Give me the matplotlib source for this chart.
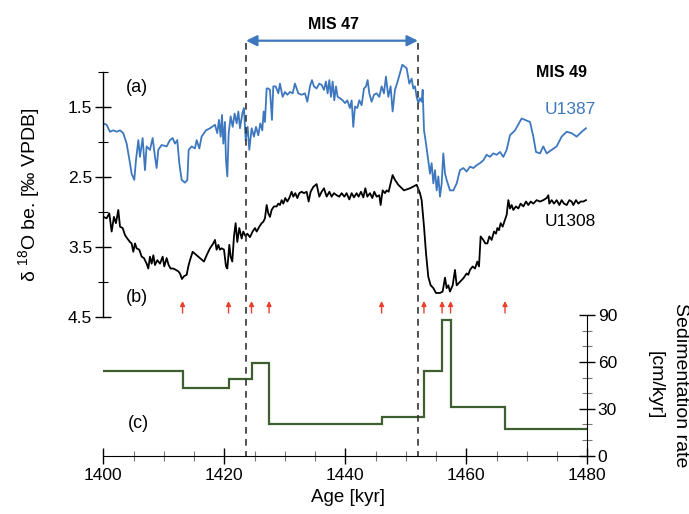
import matplotlib
matplotlib.use("Agg")
import matplotlib.pyplot as plt
import numpy as np

plt.rcParams['font.family'] = ['Liberation Sans', 'DejaVu Sans']
plt.rcParams['mathtext.fontset'] = 'custom'
plt.rcParams['mathtext.rm'] = 'Liberation Sans'

# ---- U1387 benthic d18O (age kyr, permil) ----
u1387_age = [1400.0, 1400.55, 1401.1, 1401.65, 1402.2, 1402.75, 1403.3, 1403.86, 1404.41, 1404.68,
             1405.12, 1405.4, 1405.79, 1406.06, 1406.5, 1406.89, 1407.16, 1407.71, 1408.16, 1408.54,
             1408.82, 1409.09, 1409.64, 1410.47, 1411.02, 1411.46, 1411.85, 1412.23, 1412.56, 1412.95,
             1413.5, 1413.89, 1414.11, 1414.6, 1415.15, 1415.43, 1415.87, 1416.25, 1416.97, 1417.63,
             1418.46, 1418.84, 1419.12, 1419.4, 1419.62, 1419.84, 1420.11, 1420.28, 1420.5, 1420.72,
             1421.05, 1421.38, 1421.71, 1422.04, 1422.32, 1422.59, 1422.98, 1423.25, 1423.53, 1423.86,
             1424.13, 1424.52, 1424.9, 1425.24, 1425.62, 1425.95, 1426.28, 1426.5, 1426.72, 1427.0,
             1427.27, 1427.55, 1427.88, 1428.1, 1428.49, 1428.93, 1429.2, 1429.64, 1430.03, 1430.41,
             1430.85, 1431.3, 1431.68, 1432.23, 1432.78, 1433.33, 1433.72, 1434.16, 1434.49, 1434.82,
             1435.26, 1435.7, 1436.09, 1436.47, 1436.8, 1437.08, 1437.36, 1437.63, 1437.91, 1438.18,
             1438.46, 1438.73, 1439.12, 1439.56, 1439.95, 1440.33, 1440.77, 1441.05, 1441.32, 1441.6,
             1441.98, 1442.31, 1442.7, 1443.09, 1443.42, 1443.69, 1443.97, 1444.35, 1444.74, 1445.18,
             1445.62, 1446.01, 1446.39, 1446.72, 1447.11, 1447.49, 1447.82, 1448.21, 1448.65, 1449.04,
             1449.42, 1449.86, 1450.14, 1450.58, 1450.97, 1451.24, 1451.52, 1451.79, 1452.07, 1452.34,
             1452.62, 1452.79, 1453.01, 1453.34, 1453.56, 1453.72, 1454.0, 1454.27, 1454.55, 1454.83,
             1455.1, 1455.38, 1455.65, 1455.93, 1456.2, 1456.48, 1456.75, 1457.3, 1457.86, 1458.41,
             1458.96, 1459.51, 1460.06, 1460.61, 1461.16, 1461.71, 1462.26, 1462.81, 1463.36, 1463.92,
             1464.47, 1465.02, 1465.57, 1466.12, 1466.67, 1467.22, 1468.05, 1469.15, 1470.53, 1471.08,
             1471.52, 1472.18, 1472.73, 1473.28, 1474.11, 1474.94, 1475.76, 1476.59, 1477.41, 1478.24,
             1479.07, 1479.78]
u1387_d18o = [1.73, 1.75, 1.85, 1.83, 1.85, 1.83, 1.87, 2.02, 2.30, 2.45,
              2.54, 2.26, 1.97, 2.21, 1.94, 2.40, 2.06, 2.11, 1.94, 2.21,
              2.37, 2.11, 2.04, 2.06, 1.97, 1.94, 2.02, 1.97, 2.30, 2.54,
              2.58, 2.54, 2.11, 2.06, 2.09, 1.97, 2.09, 1.92, 1.83, 1.80,
              1.75, 1.87, 1.68, 1.92, 1.61, 2.02, 1.71, 2.26, 2.49, 1.87,
              1.63, 1.78, 1.59, 1.73, 1.56, 1.80, 1.59, 1.51, 1.97, 1.78,
              2.11, 1.80, 1.92, 1.78, 1.90, 1.73, 1.83, 1.56, 1.71, 1.23,
              1.23, 1.25, 1.68, 1.20, 1.20, 1.30, 1.16, 1.35, 1.28, 1.32,
              1.28, 1.30, 1.16, 1.30, 1.32, 1.30, 1.42, 1.20, 1.11, 1.20,
              1.23, 1.16, 1.18, 1.25, 1.13, 1.30, 1.11, 1.35, 1.13, 1.40,
              1.20, 1.35, 1.37, 1.40, 1.44, 1.40, 1.51, 1.40, 1.78, 1.49,
              1.51, 1.40, 1.47, 1.23, 1.20, 1.11, 1.30, 1.42, 1.32, 1.30,
              1.35, 1.20, 1.30, 1.06, 1.35, 1.20, 1.56, 1.25, 1.13, 1.01,
              0.89, 0.92, 0.94, 1.16, 1.09, 1.23, 1.20, 1.35, 1.44, 1.37,
              1.42, 1.25, 1.83, 2.02, 2.16, 2.26, 2.45, 2.30, 2.59, 2.40,
              2.69, 2.49, 2.78, 2.59, 2.16, 2.45, 2.54, 2.69, 2.69, 2.59,
              2.40, 2.37, 2.42, 2.35, 2.37, 2.33, 2.30, 2.26, 2.18, 2.21,
              2.16, 2.18, 2.14, 2.21, 2.11, 1.90, 1.83, 1.66, 1.71, 1.92,
              2.14, 2.16, 2.06, 2.16, 2.11, 2.06, 1.92, 1.85, 1.87, 1.92,
              1.85, 1.80]

# ---- U1308 benthic d18O (age kyr, permil) ----
u1308_age = [1400.0, 1400.55, 1400.99, 1401.38, 1401.76, 1402.09, 1402.48, 1402.76, 1403.2, 1403.58,
             1403.97, 1404.41, 1404.68, 1404.96, 1405.24, 1405.51, 1405.95, 1406.34, 1406.72, 1407.16,
             1407.44, 1407.71, 1407.99, 1408.27, 1408.54, 1408.93, 1409.37, 1409.81, 1410.08, 1410.47,
             1410.8, 1411.13, 1411.57, 1412.01, 1412.4, 1412.67, 1413.0, 1413.33, 1413.78, 1414.05,
             1414.33, 1414.77, 1415.43, 1415.98, 1416.64, 1417.08, 1417.63, 1418.18, 1418.46, 1418.73,
             1419.01, 1419.28, 1419.56, 1419.95, 1420.28, 1420.5, 1420.83, 1421.05, 1421.32, 1421.6,
             1421.87, 1422.15, 1422.48, 1422.87, 1423.14, 1423.53, 1423.8, 1424.24, 1424.68, 1425.07,
             1425.35, 1425.79, 1426.17, 1426.45, 1426.72, 1427.0, 1427.27, 1427.55, 1427.82, 1428.21,
             1428.65, 1428.93, 1429.2, 1429.48, 1429.75, 1430.08, 1430.41, 1430.74, 1431.13, 1431.41,
             1431.74, 1432.07, 1432.4, 1432.78, 1433.17, 1433.61, 1433.94, 1434.27, 1434.71, 1435.26,
             1435.7, 1436.09, 1436.47, 1436.92, 1437.36, 1437.74, 1438.13, 1438.57, 1439.01, 1439.4,
             1439.84, 1440.22, 1440.66, 1441.05, 1441.43, 1441.87, 1442.2, 1442.59, 1442.98, 1443.31,
             1443.64, 1444.08, 1444.46, 1444.79, 1445.18, 1445.62, 1445.84, 1446.17, 1446.56, 1446.83,
             1447.16, 1447.49, 1447.82, 1448.21, 1448.76, 1449.7, 1450.69, 1451.79, 1452.34, 1452.62,
             1453.01, 1453.34, 1453.72, 1454.11, 1454.55, 1454.99, 1455.65, 1456.09, 1456.48, 1456.75,
             1457.03, 1457.3, 1457.75, 1458.13, 1458.41, 1458.96, 1459.51, 1460.06, 1460.33, 1460.61,
             1461.05, 1461.44, 1461.82, 1462.1, 1462.37, 1462.81, 1463.14, 1463.48, 1463.81, 1464.19,
             1464.58, 1464.91, 1465.13, 1465.4, 1465.68, 1466.01, 1466.4, 1466.67, 1466.95, 1467.22,
             1467.5, 1467.77, 1468.21, 1468.6, 1468.98, 1469.43, 1469.87, 1470.25, 1470.64, 1471.08,
             1471.63, 1472.18, 1472.73, 1473.28, 1473.56, 1473.72, 1474.11, 1474.5, 1474.94, 1475.38,
             1475.76, 1476.15, 1476.59, 1477.03, 1477.41, 1477.69, 1478.13, 1478.52, 1478.9, 1479.34,
             1479.78]
u1308_d18o = [3.07, 3.09, 3.02, 3.28, 3.07, 3.16, 2.97, 3.21, 3.23, 3.33,
              3.38, 3.43, 3.45, 3.57, 3.45, 3.52, 3.54, 3.64, 3.66, 3.74,
              3.81, 3.64, 3.74, 3.62, 3.76, 3.69, 3.74, 3.64, 3.78, 3.66,
              3.76, 3.81, 3.81, 3.83, 3.85, 3.88, 3.96, 3.92, 3.90, 3.78,
              3.69, 3.57, 3.62, 3.66, 3.71, 3.62, 3.52, 3.45, 3.40, 3.54,
              3.47, 3.54, 3.52, 3.54, 3.78, 3.81, 3.47, 3.64, 3.71, 3.35,
              3.16, 3.43, 3.23, 3.38, 3.28, 3.35, 3.31, 3.36, 3.28, 3.23,
              3.28, 3.21, 3.16, 3.14, 3.09, 2.90, 3.02, 3.07, 2.97, 2.92,
              2.92, 2.88, 2.90, 2.83, 2.88, 2.80, 2.85, 2.80, 2.71, 2.78,
              2.73, 2.80, 2.73, 2.71, 2.73, 2.71, 2.85, 2.71, 2.64, 2.60,
              2.78, 2.71, 2.66, 2.78, 2.71, 2.78, 2.73, 2.76, 2.78, 2.73,
              2.78, 2.73, 2.82, 2.73, 2.79, 2.73, 2.78, 2.71, 2.79, 2.66,
              2.78, 2.73, 2.80, 2.71, 2.78, 2.76, 2.90, 2.69, 2.73, 2.69,
              2.71, 2.59, 2.47, 2.54, 2.61, 2.69, 2.66, 2.61, 2.73, 2.83,
              3.21, 3.59, 3.93, 4.05, 4.09, 4.16, 4.16, 4.14, 3.94, 4.09,
              4.05, 4.14, 4.05, 3.83, 4.05, 4.00, 3.95, 3.88, 3.90, 3.83,
              3.78, 3.81, 3.71, 3.78, 3.35, 3.40, 3.45, 3.45, 3.35, 3.40,
              3.28, 3.31, 3.23, 3.26, 3.16, 3.21, 3.11, 3.04, 2.83, 2.95,
              2.90, 2.97, 2.92, 2.95, 2.88, 2.92, 2.85, 2.90, 2.85, 2.88,
              2.83, 2.85, 2.83, 2.80, 2.76, 2.88, 2.83, 2.88, 2.83, 2.90,
              2.83, 2.88, 2.90, 2.83, 2.85, 2.90, 2.83, 2.88, 2.85, 2.85,
              2.83]

# ---- Sedimentation rate between age tie points (cm/kyr) ----
tie_ages = [1413.1, 1420.7, 1424.5, 1427.4, 1446.0, 1453.0, 1456.0, 1457.4, 1466.4]
sed_rate = [54.4, 43.3, 48.9, 59.1, 20.5, 25.0, 54.4, 86.8, 31.4, 16.9]
age_range = (1400, 1480)

# ---- MIS 47 boundaries ----
mis47_bounds = (1423.6, 1452.0)

W, H = 689, 514
fig = plt.figure(figsize=(W / 100, H / 100), dpi=100)


def rect(x0, y0, x1, y1):
    return [x0 / W, 1 - y1 / H, (x1 - x0) / W, (y1 - y0) / H]


def P(x, y):
    return (x / W, 1 - y / H)


XL, XR = 103.3, 587.3
BLUE = '#3d78bf'
GREEN = '#3e5f30'
FS = 12.5

# upper panel: d18O
ax1 = fig.add_axes(rect(XL, 44.5, XR, 316.7))
ax1.patch.set_visible(False)
ax1.plot(u1387_age, u1387_d18o, color=BLUE, lw=1.3, solid_joinstyle='round')
ax1.plot(u1308_age, u1308_d18o, color='black', lw=1.3, solid_joinstyle='round')
ax1.set_xlim(*age_range)
ax1.set_ylim(4.5, 0.6)
for s in ('top', 'right', 'bottom'):
    ax1.spines[s].set_visible(False)
ax1.spines['left'].set_bounds(1.0, 4.5)
ax1.spines['left'].set_linewidth(1.0)
ax1.set_xticks([])
ax1.set_yticks([1.5, 2.5, 3.5, 4.5])
ax1.set_yticklabels(['1.5', '2.5', '3.5', '4.5'])
ax1.set_yticks([1.0, 2.0, 3.0, 4.0], minor=True)
ax1.tick_params(axis='y', which='major', direction='inout', length=12, width=1.0,
                labelsize=FS, pad=2)
ax1.tick_params(axis='y', which='minor', direction='inout', length=7, width=0.8)

# lower panel: sedimentation rate
ax2 = fig.add_axes(rect(XL, 315.0, XR, 455.7))
ax2.patch.set_visible(False)
edges = [age_range[0]] + tie_ages + [age_range[1]]
ax2.stairs(sed_rate, edges, baseline=None, color=GREEN, lw=1.6)
ax2.set_xlim(*age_range)
ax2.set_ylim(0, 90)
ax2.spines['top'].set_visible(False)
ax2.spines['left'].set_visible(False)
ax2.yaxis.tick_right()
ax2.set_yticks([0, 30, 60, 90])
ax2.set_yticks(np.arange(10, 90, 10), minor=True)
ax2.set_xticks(np.arange(1400, 1481, 20))
ax2.set_xticks(np.arange(1405, 1480, 5), minor=True)
ax2.tick_params(axis='both', which='major', direction='inout', length=11, width=1.0,
                labelsize=FS, pad=2)
ax2.tick_params(axis='both', which='minor', direction='inout', length=7, width=0.8,
                color='#777777')
ax2.tick_params(axis='x', which='major', pad=3)

# overlay for MIS 47 markers and tie-point arrows (pixel-scaled y)
ov = fig.add_axes(rect(XL, 0, XR, 455.7))
ov.set_xlim(*age_range)
ov.set_ylim(455.7, 0)
ov.axis('off')
for a in mis47_bounds:
    ov.plot([a, a], [43, 455.7], color='#333333', lw=1.2, ls=(0, (4, 3.2)))
ov.annotate('', xy=(mis47_bounds[0], 40.7), xytext=(mis47_bounds[1], 40.7),
            arrowprops=dict(arrowstyle='<|-|>', color=BLUE, lw=1.6, mutation_scale=16,
                            shrinkA=0, shrinkB=0))
for a in tie_ages:
    ov.annotate('', xy=(a, 301), xytext=(a, 313),
                arrowprops=dict(arrowstyle='-|>', color='#e8402a', lw=1.0, mutation_scale=7,
                                shrinkA=0, shrinkB=0))

# labels
fig.text(*P(333, 24), 'MIS 47', ha='center', va='center', fontsize=11.5, fontweight='bold')
fig.text(*P(562, 73), 'MIS 49', ha='center', va='center', fontsize=11.5, fontweight='bold')
fig.text(*P(570, 109), 'U1387', ha='center', va='center', fontsize=FS, color=BLUE)
fig.text(*P(570, 222), 'U1308', ha='center', va='center', fontsize=FS)
fig.text(*P(137, 87), '(a)', ha='center', va='center', fontsize=13)
fig.text(*P(137, 297), '(b)', ha='center', va='center', fontsize=13)
fig.text(*P(138, 423), '(c)', ha='center', va='center', fontsize=13)
fig.text(*P(30, 195), r'δ $^{\mathrm{18}}$O be. [‰ VPDB]', ha='center', va='center',
         rotation=90, fontsize=14)
fig.text(*P(680, 385), 'Sedimentation rate', ha='center', va='center',
         rotation=-90, fontsize=14)
fig.text(*P(655, 385), '[cm/kyr]', ha='center', va='center', rotation=-90, fontsize=14)
fig.text(*P(348, 497), 'Age [kyr]', ha='center', va='center', fontsize=13.5)

fig.savefig('out.png', dpi=100)
